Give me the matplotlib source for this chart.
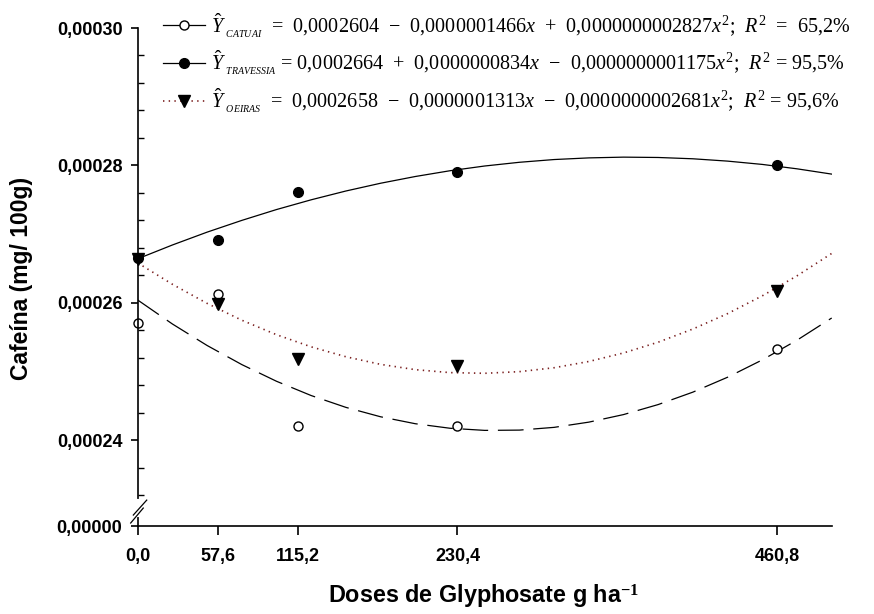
import numpy as np
import matplotlib
matplotlib.use('Agg')
import matplotlib.pyplot as plt
from matplotlib.lines import Line2D

doses = [0, 57.6, 115.2, 230.4, 460.8]
catuai = [0.0002571, 0.0002613, 0.0002421, 0.0002421, 0.0002532]
travessia = [0.0002665, 0.0002691, 0.0002761, 0.0002791, 0.0002800]
oeiras = [0.0002663, 0.0002598, 0.0002518, 0.0002508, 0.0002617]

# Fitted curves, read at every 25 g/ha
curve_x = [0, 25, 50, 75, 100, 125, 150, 175, 200, 225, 250,
           275, 300, 325, 350, 375, 400, 425, 450, 475, 500]
catuai_fit = [0.00026040, 0.00025691, 0.00025378, 0.00025100, 0.00024857, 0.00024649,
              0.00024477, 0.00024340, 0.00024239, 0.00024173, 0.00024142, 0.00024146,
              0.00024186, 0.00024262, 0.00024372, 0.00024518, 0.00024699, 0.00024916,
              0.00025168, 0.00025455, 0.00025778]
travessia_fit = [0.00026640, 0.00026841, 0.00027028, 0.00027199, 0.00027357, 0.00027499,
                 0.00027627, 0.00027740, 0.00027838, 0.00027922, 0.00027991, 0.00028045,
                 0.00028085, 0.00028109, 0.00028120, 0.00028115, 0.00028096, 0.00028062,
                 0.00028014, 0.00027950, 0.00027873]
oeiras_fit = [0.00026580, 0.00026269, 0.00025991, 0.00025746, 0.00025535, 0.00025358,
              0.00025214, 0.00025103, 0.00025026, 0.00024983, 0.00024973, 0.00024997,
              0.00025054, 0.00025145, 0.00025269, 0.00025426, 0.00025618, 0.00025842,
              0.00026101, 0.00026392, 0.00026718]

xtick_values = [0, 57.6, 115.2, 230.4, 460.8]
xtick_labels = ['0,0', '57,6', '115,2', '230,4', '460,8']
ytick_values = [0, 0.00024, 0.00026, 0.00028, 0.00030]
ytick_labels = ['0,00000', '0,00024', '0,00026', '0,00028', '0,00030']
yminor_values = [0.000232, 0.000236, 0.000244, 0.000248, 0.000252, 0.000256,
                 0.000264, 0.000268, 0.000272, 0.000276, 0.000284, 0.000288,
                 0.000292, 0.000296]

labels = [
    r'$\hat{Y}_{\ _{CATUAI}}$  =  0,0002604  $-$  0,0000001466$x$  +  0,0000000002827$x^{2}$;  $R^{2}$  =  65,2%',
    r'$\hat{Y}_{\ _{TRAVESSIA}}$ = 0,0002664  +  0,0000000834$x$  $-$  0,0000000001175$x^{2}$;  $R^{2}$ = 95,5%',
    r'$\hat{Y}_{\ _{OEIRAS}}$  =  0,0002658  $-$  0,0000001313$x$  $-$  0,0000000002681$x^{2}$;  $R^{2}$ = 95,6%',
]

plt.rcParams['font.family'] = ['Liberation Sans', 'DejaVu Sans']
plt.rcParams['mathtext.fontset'] = 'custom'
plt.rcParams['mathtext.rm'] = 'Liberation Serif'
plt.rcParams['mathtext.it'] = 'Liberation Serif:italic'
plt.rcParams['mathtext.bf'] = 'Liberation Serif:bold'
plt.rcParams['lines.scale_dashes'] = False

red = '#7a1f1f'


# broken y axis: zero is drawn just under the lower end of the visible range
def fwd(v):
    v = np.asarray(v, dtype=float)
    return np.where(v < 1e-4, v + 0.0002275, v)


def inv(v):
    v = np.asarray(v, dtype=float)
    return np.where(v < 0.000228, v - 0.0002275, v)


fig = plt.figure(figsize=(8.74, 6.14), dpi=100)
ax = fig.add_axes([137.7 / 874, 1 - 526 / 614, 694 / 874, 498 / 614])
ax.set_yscale('function', functions=(fwd, inv))

# curves
ax.plot(curve_x, catuai_fit, color='k', lw=0.9, dashes=(18.5, 7))
ax.plot(curve_x, travessia_fit, color='k', lw=0.9)
ax.plot(curve_x, oeiras_fit, color=red, lw=1.2, dashes=(1.0, 3.1))

# points
ax.plot(doses, catuai, 'o', ms=6.5, mfc='white', mec='k', mew=1.0, ls='none', clip_on=False)
ax.plot(doses, travessia, 'o', ms=7, mfc='k', mec='k', ls='none', clip_on=False)
ax.plot(doses, oeiras, 'v', ms=8, mfc='k', mec='k', ls='none', clip_on=False)

ax.set_xlim(0, 500)
ax.set_ylim(0, 0.0003)

ax.spines['top'].set_visible(False)
ax.spines['right'].set_visible(False)
ax.spines['left'].set_linewidth(1.2)
ax.spines['bottom'].set_linewidth(1.2)

ax.set_xticks(xtick_values)
ax.set_xticklabels(xtick_labels)
ax.set_yticks(ytick_values)
ax.set_yticklabels(ytick_labels)
ax.set_yticks(yminor_values, minor=True)
ax.tick_params(axis='x', direction='out', length=6.5, width=1.2, pad=9, labelsize=13)
ax.tick_params(axis='y', which='major', direction='out', length=5, width=1.2, pad=6, labelsize=13)
ax.tick_params(axis='y', which='minor', direction='in', length=4.5, width=1.0)
for lab in ax.get_xticklabels() + ax.get_yticklabels():
    lab.set_fontweight('bold')

# axis break marks on the y spine
ax.plot([0, 0], [0.022, 0.05], color='white', lw=3, transform=ax.transAxes, clip_on=False, zorder=5)
ax.plot([-0.0101, 0.008], [0.006, 0.036], color='k', lw=0.9, transform=ax.transAxes, clip_on=False, zorder=6)
ax.plot([-0.0063, 0.013], [0.022, 0.052], color='k', lw=0.9, transform=ax.transAxes, clip_on=False, zorder=6)

fig.text(21.7 / 874, 1 - 278 / 614, 'Cafeína (mg/ 100g)', rotation=90, ha='center', va='center',
         fontsize=16.5, fontweight='bold')
fig.text(484 / 874, 1 - 597 / 614, r'Doses de Glyphosate g ha$^{\mathbf{-1}}$', ha='center', va='center',
         fontsize=16.8, fontweight='bold')

handles = [
    Line2D([], [], color='k', lw=0.9, marker='o', ms=6.5, mfc='white', mec='k'),
    Line2D([], [], color='k', lw=0.9, marker='o', ms=7, mfc='k', mec='k'),
    Line2D([], [], color=red, lw=1.2, dashes=(1.0, 3.1), marker='v', ms=8, mfc='k', mec='k'),
]
ax.legend(handles, labels, loc='upper left', bbox_to_anchor=(163 / 874, 1 - 11 / 614),
          bbox_transform=fig.transFigure, frameon=False, borderpad=0, borderaxespad=0,
          handlelength=2.1, handletextpad=0.3, labelspacing=0.45, numpoints=1,
          prop={'family': 'Liberation Serif', 'size': 14.5})

fig.savefig('out.png', dpi=100)
